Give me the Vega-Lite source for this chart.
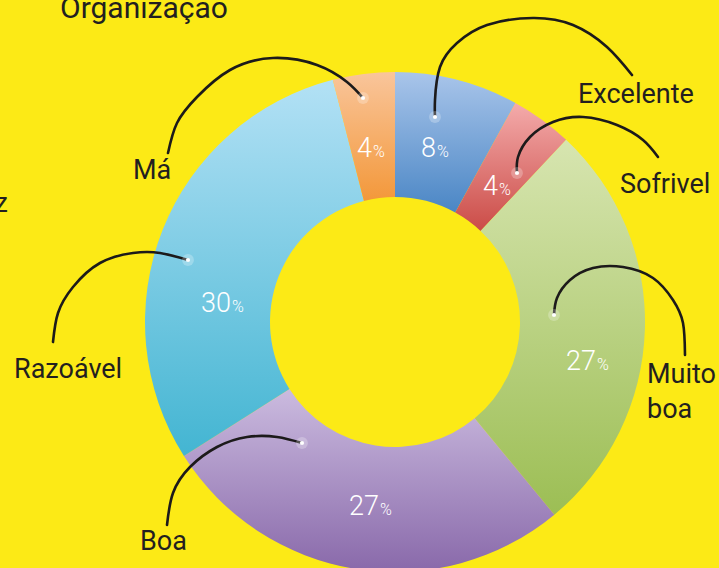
{
  "$schema": "https://vega.github.io/schema/vega-lite/v6.json",
  "width": 719,
  "height": 568,
  "autosize": "none",
  "padding": 0,
  "background": "#fcea16",
  "config": {"view": {"stroke": null}},
  "datasets": {
    "shares": [
      {"category": "Excelente", "value": 8, "ord": 1},
      {"category": "Sofrivel", "value": 4, "ord": 2},
      {"category": "Muito boa", "value": 27, "ord": 3},
      {"category": "Boa", "value": 27, "ord": 4},
      {"category": "Razoável", "value": 30, "ord": 5},
      {"category": "Má", "value": 4, "ord": 6}
    ],
    "anchors": [
      {"category": "Excelente", "label": "Excelente", "px": 436, "py": 157, "lx": 578, "ly": 103},
      {"category": "Sofrivel", "label": "Sofrivel", "px": 498, "py": 195, "lx": 620, "ly": 193},
      {"category": "Muito boa", "label": "Muito\nboa", "px": 596, "py": 370, "lx": 647, "ly": 383},
      {"category": "Boa", "label": "Boa", "px": 379, "py": 515, "lx": 140, "ly": 550},
      {"category": "Razoável", "label": "Razoável", "px": 231, "py": 312, "lx": 14, "ly": 378},
      {"category": "Má", "label": "Má", "px": 372, "py": 157, "lx": 133, "ly": 179}
    ],
    "notes": [
      {"text": "Organização", "x": 60, "y": 18, "side": "left"},
      {"text": "z", "x": 8, "y": 212, "side": "right"}
    ],
    "leaders": [
      {"category": "Excelente", "seq": 0, "x": 435, "y": 117},
      {"category": "Excelente", "seq": 1, "x": 435, "y": 100},
      {"category": "Excelente", "seq": 2, "x": 440, "y": 67},
      {"category": "Excelente", "seq": 3, "x": 457, "y": 43},
      {"category": "Excelente", "seq": 4, "x": 487, "y": 25},
      {"category": "Excelente", "seq": 5, "x": 533, "y": 18},
      {"category": "Excelente", "seq": 6, "x": 573, "y": 25},
      {"category": "Excelente", "seq": 7, "x": 607, "y": 47},
      {"category": "Excelente", "seq": 8, "x": 632, "y": 75},
      {"category": "Sofrivel", "seq": 0, "x": 517, "y": 173},
      {"category": "Sofrivel", "seq": 1, "x": 518, "y": 157},
      {"category": "Sofrivel", "seq": 2, "x": 530, "y": 137},
      {"category": "Sofrivel", "seq": 3, "x": 553, "y": 122},
      {"category": "Sofrivel", "seq": 4, "x": 583, "y": 117},
      {"category": "Sofrivel", "seq": 5, "x": 617, "y": 125},
      {"category": "Sofrivel", "seq": 6, "x": 643, "y": 140},
      {"category": "Sofrivel", "seq": 7, "x": 658, "y": 157},
      {"category": "Muito boa", "seq": 0, "x": 554, "y": 315},
      {"category": "Muito boa", "seq": 1, "x": 557, "y": 298},
      {"category": "Muito boa", "seq": 2, "x": 570, "y": 280},
      {"category": "Muito boa", "seq": 3, "x": 593, "y": 268},
      {"category": "Muito boa", "seq": 4, "x": 623, "y": 267},
      {"category": "Muito boa", "seq": 5, "x": 653, "y": 278},
      {"category": "Muito boa", "seq": 6, "x": 673, "y": 300},
      {"category": "Muito boa", "seq": 7, "x": 683, "y": 323},
      {"category": "Muito boa", "seq": 8, "x": 685, "y": 355},
      {"category": "Boa", "seq": 0, "x": 302, "y": 443},
      {"category": "Boa", "seq": 1, "x": 277, "y": 437},
      {"category": "Boa", "seq": 2, "x": 247, "y": 437},
      {"category": "Boa", "seq": 3, "x": 217, "y": 447},
      {"category": "Boa", "seq": 4, "x": 190, "y": 467},
      {"category": "Boa", "seq": 5, "x": 173, "y": 493},
      {"category": "Boa", "seq": 6, "x": 167, "y": 525},
      {"category": "Razoável", "seq": 0, "x": 188, "y": 260},
      {"category": "Razoável", "seq": 1, "x": 160, "y": 253},
      {"category": "Razoável", "seq": 2, "x": 133, "y": 253},
      {"category": "Razoável", "seq": 3, "x": 100, "y": 263},
      {"category": "Razoável", "seq": 4, "x": 73, "y": 287},
      {"category": "Razoável", "seq": 5, "x": 58, "y": 313},
      {"category": "Razoável", "seq": 6, "x": 53, "y": 342},
      {"category": "Má", "seq": 0, "x": 363, "y": 98},
      {"category": "Má", "seq": 1, "x": 347, "y": 82},
      {"category": "Má", "seq": 2, "x": 317, "y": 65},
      {"category": "Má", "seq": 3, "x": 273, "y": 58},
      {"category": "Má", "seq": 4, "x": 230, "y": 70},
      {"category": "Má", "seq": 5, "x": 197, "y": 97},
      {"category": "Má", "seq": 6, "x": 177, "y": 123},
      {"category": "Má", "seq": 7, "x": 168, "y": 153}
    ]
  },
  "layer": [
    {
      "data": {"name": "shares"},
      "transform": [
        {"stack": "value", "groupby": [], "sort": [{"field": "ord", "order": "ascending"}], "as": ["v0", "v1"]}
      ],
      "mark": {"type": "arc", "outerRadius": 250, "innerRadius": 125, "strokeWidth": 0},
      "encoding": {
        "x": {"datum": 395, "type": "quantitative", "scale": {"domain": [0, 719], "nice": false, "zero": false}, "axis": null},
        "y": {"datum": 322, "type": "quantitative", "scale": {"domain": [0, 568], "reverse": true, "nice": false, "zero": false}, "axis": null},
        "theta": {"field": "v0", "type": "quantitative", "scale": {"domain": [0, 100]}},
        "theta2": {"field": "v1"},
        "fill": {
          "condition": [
            {"test": "datum.category === 'Excelente'", "value": {"gradient": "linear", "x1": 0, "y1": 0, "x2": 0, "y2": 1, "stops": [{"offset": 0, "color": "#a9c5ea"}, {"offset": 1, "color": "#4a86c5"}]}},
            {"test": "datum.category === 'Sofrivel'", "value": {"gradient": "linear", "x1": 0, "y1": 0, "x2": 0, "y2": 1, "stops": [{"offset": 0, "color": "#f4abab"}, {"offset": 1, "color": "#cb4c47"}]}},
            {"test": "datum.category === 'Muito boa'", "value": {"gradient": "linear", "x1": 0, "y1": 0, "x2": 0, "y2": 1, "stops": [{"offset": 0, "color": "#d7e5b0"}, {"offset": 1, "color": "#9cbe54"}]}},
            {"test": "datum.category === 'Boa'", "value": {"gradient": "linear", "x1": 0, "y1": 0, "x2": 0, "y2": 1, "stops": [{"offset": 0, "color": "#cbbbdf"}, {"offset": 1, "color": "#8969aa"}]}},
            {"test": "datum.category === 'Razoável'", "value": {"gradient": "linear", "x1": 0, "y1": 0, "x2": 0, "y2": 1, "stops": [{"offset": 0, "color": "#b3e1f5"}, {"offset": 1, "color": "#43b5d2"}]}}
          ],
          "value": {"gradient": "linear", "x1": 0, "y1": 0, "x2": 0, "y2": 1, "stops": [{"offset": 0, "color": "#f9c59b"}, {"offset": 1, "color": "#f3983a"}]}
        }
      }
    },
    {
      "data": {"name": "leaders"},
      "mark": {"type": "line", "interpolate": "natural", "color": "#1c1a1a", "strokeWidth": 2.6, "strokeCap": "round"},
      "encoding": {
        "x": {"field": "x", "type": "quantitative", "scale": {"domain": [0, 719], "nice": false, "zero": false}, "axis": null},
        "y": {"field": "y", "type": "quantitative", "scale": {"domain": [0, 568], "reverse": true, "nice": false, "zero": false}, "axis": null},
        "detail": {"field": "category"},
        "order": {"field": "seq", "type": "quantitative"}
      }
    },
    {
      "data": {"name": "leaders"},
      "transform": [{"filter": "datum.seq === 0"}],
      "mark": {"type": "point", "filled": true, "color": "#ffffff", "opacity": 0.25, "size": 140, "strokeWidth": 0},
      "encoding": {
        "x": {"field": "x", "type": "quantitative"},
        "y": {"field": "y", "type": "quantitative"}
      }
    },
    {
      "data": {"name": "leaders"},
      "transform": [{"filter": "datum.seq === 0"}],
      "mark": {"type": "point", "filled": true, "color": "#ffffff", "opacity": 1, "size": 18, "strokeWidth": 0},
      "encoding": {
        "x": {"field": "x", "type": "quantitative"},
        "y": {"field": "y", "type": "quantitative"}
      }
    },
    {
      "data": {"name": "shares"},
      "transform": [{"lookup": "category", "from": {"data": {"name": "anchors"}, "key": "category", "fields": ["px", "py"]}}],
      "mark": {"type": "text", "align": "right", "baseline": "alphabetic", "font": "Roboto", "fontWeight": 300, "fontSize": 27, "color": "#ffffff"},
      "encoding": {
        "x": {"field": "px", "type": "quantitative"},
        "y": {"field": "py", "type": "quantitative"},
        "text": {"field": "value", "type": "quantitative"}
      }
    },
    {
      "data": {"name": "shares"},
      "transform": [{"lookup": "category", "from": {"data": {"name": "anchors"}, "key": "category", "fields": ["px", "py"]}}],
      "mark": {"type": "text", "align": "left", "baseline": "alphabetic", "font": "Roboto", "fontWeight": 300, "fontSize": 16, "color": "#ffffff", "dx": 1},
      "encoding": {
        "x": {"field": "px", "type": "quantitative"},
        "y": {"field": "py", "type": "quantitative"},
        "text": {"value": "%"}
      }
    },
    {
      "data": {"name": "anchors"},
      "mark": {"type": "text", "align": "left", "baseline": "alphabetic", "font": "Roboto", "fontSize": 27, "lineHeight": 35, "lineBreak": "\n", "color": "#231f20"},
      "encoding": {
        "x": {"field": "lx", "type": "quantitative"},
        "y": {"field": "ly", "type": "quantitative"},
        "text": {"field": "label"}
      }
    },
    {
      "data": {"name": "notes"},
      "transform": [{"filter": "datum.side === 'left'"}],
      "mark": {"type": "text", "align": "left", "baseline": "alphabetic", "font": "Roboto", "fontSize": 30, "color": "#231f20"},
      "encoding": {
        "x": {"field": "x", "type": "quantitative"},
        "y": {"field": "y", "type": "quantitative"},
        "text": {"field": "text"}
      }
    },
    {
      "data": {"name": "notes"},
      "transform": [{"filter": "datum.side === 'right'"}],
      "mark": {"type": "text", "align": "right", "baseline": "alphabetic", "font": "Roboto", "fontSize": 27, "color": "#231f20"},
      "encoding": {
        "x": {"field": "x", "type": "quantitative"},
        "y": {"field": "y", "type": "quantitative"},
        "text": {"field": "text"}
      }
    }
  ]
}
